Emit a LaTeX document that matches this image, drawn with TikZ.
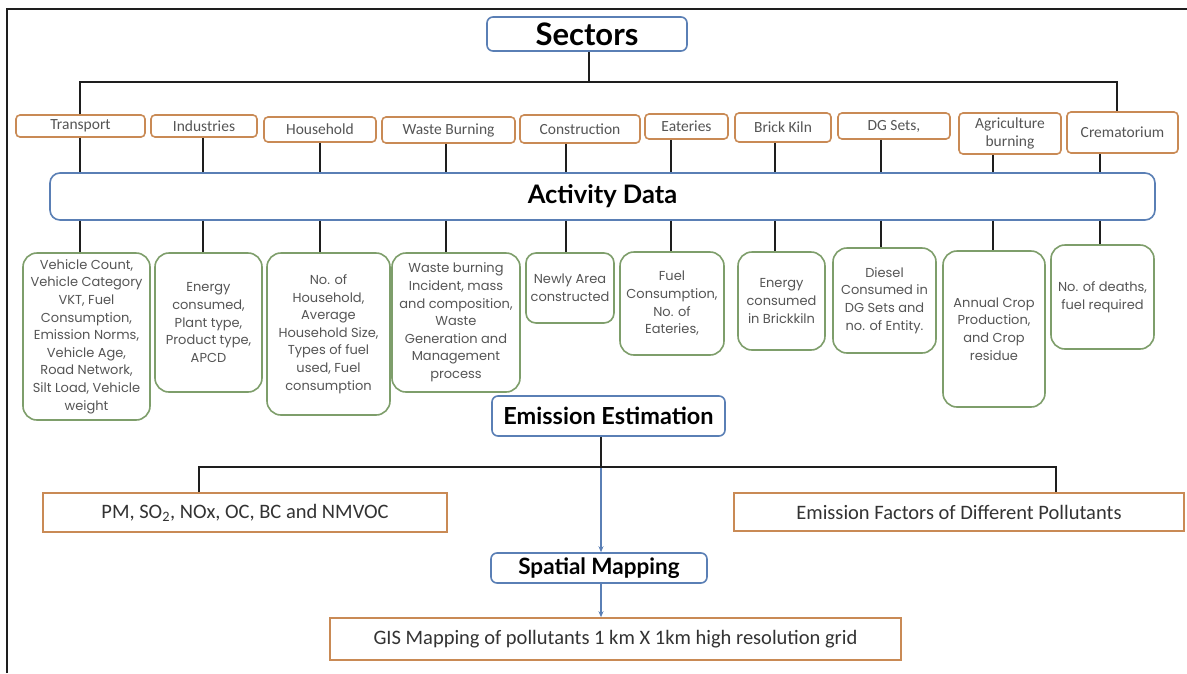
\documentclass[tikz,border=0pt]{standalone}
\usepackage{fontspec}
\setmainfont{Carlito}
\newfontfamily\titlefont{Lato}
\newfontfamily\detailfont{Poppins}
\usetikzlibrary{arrows.meta}
\definecolor{bbl}{HTML}{5A7FB5}
\definecolor{orng}{HTML}{C98A55}
\definecolor{grn}{HTML}{7E9E6B}
\definecolor{lineblk}{HTML}{1E1E1E}
\definecolor{txtg}{HTML}{555555}
\definecolor{txtd}{HTML}{333333}
\begin{document}
\begin{tikzpicture}[x=1pt,y=-1pt,
  box/.style={draw, line width=1.6pt, inner sep=0pt, align=center, fill=white},
  blueb/.style={box, draw=bbl, rounded corners=6pt, text=black},
  sect/.style={box, draw=orng, rounded corners=4pt, font=\fontsize{15.5}{18}\selectfont, text=txtg},
  det/.style={box, draw=grn, rounded corners=14pt, font=\detailfont\fontsize{13}{17.6}\selectfont, text=txtg},
  orbox/.style={box, draw=orng, font=\fontsize{20.5}{23}\selectfont, text=txtd},
  conn/.style={line width=1.5pt, draw=lineblk},
  arr/.style={line width=1.2pt, draw=bbl, -{Stealth[length=6pt,width=5pt]}}]
\useasboundingbox (0,0) rectangle (1187,673);
\fill[white] (0,0) rectangle (1187,673);
% frame
\draw[line width=2pt, lineblk] (7,673) -- (7,9) -- (1187,9);

% title
\node[blueb, minimum width=200pt, minimum height=34pt, font=\titlefont\bfseries\fontsize{31}{33}\selectfont] (sec) at (587,34) {Sectors};

% sectors
\node[sect, minimum width=129pt, minimum height=22pt] (tr) at (80.5,126) {Transport};
\node[sect, minimum width=106pt, minimum height=22pt] (ind) at (204,126) {Industries};
\node[sect, minimum width=112pt, minimum height=25pt] (hh) at (320,129.5) {Household};
\node[sect, minimum width=133pt, minimum height=26pt] (wb) at (448.5,130) {Waste Burning};
\node[sect, minimum width=120pt, minimum height=28pt] (con) at (580,129) {Construction};
\node[sect, minimum width=83pt, minimum height=25pt] (eat) at (686.5,126.5) {Eateries};
\node[sect, minimum width=96pt, minimum height=29pt] (bk) at (783,127.5) {Brick Kiln};
\node[sect, minimum width=112pt, minimum height=26pt] (dg) at (894,126) {DG Sets,};
\node[sect, minimum width=102pt, minimum height=41pt] (agr) at (1010,133.5) {Agriculture\\burning};
\node[sect, minimum width=111pt, minimum height=41pt] (cre) at (1122.5,132.5) {Crematorium};

% activity data
\node[blueb, rounded corners=10pt, minimum width=1105pt, minimum height=47pt, font=\titlefont\bfseries\fontsize{25.5}{27}\selectfont] (act) at (602.5,196.5) {Activity Data};

% details
\node[det, minimum width=127pt, minimum height=167pt] (dT) at (86.5,336.5) {Vehicle Count,\\Vehicle Category\\VKT, Fuel\\Consumption,\\Emission Norms,\\Vehicle Age,\\Road Network,\\Silt Load, Vehicle\\weight};
\node[det, minimum width=107pt, minimum height=139pt] (dI) at (208.5,322.5) {Energy\\consumed,\\Plant type,\\Product type,\\APCD};
\node[det, minimum width=123pt, minimum height=162pt] (dH) at (328.5,334) {No. of\\Household,\\Average\\Household Size,\\Types of fuel\\used, Fuel\\consumption};
\node[det, minimum width=128pt, minimum height=139pt] (dW) at (456,322.5) {Waste burning\\Incident, mass\\and composition,\\Waste\\Generation and\\Management\\process};
\node[det, rounded corners=10pt, minimum width=88pt, minimum height=70pt] (dC) at (570,288) {Newly Area\\constructed};
\node[det, minimum width=104pt, minimum height=103pt] (dE) at (672,303.5) {Fuel\\Consumption,\\No. of\\Eateries,};
\node[det, minimum width=87pt, minimum height=98pt] (dB) at (781.5,301) {Energy\\consumed\\in Brickkiln};
\node[det, minimum width=103pt, minimum height=105pt] (dD) at (884.5,300.5) {Diesel\\Consumed in\\DG Sets and\\no. of Entity.};
\node[det, minimum width=102pt, minimum height=156pt] (dA) at (994,329) {Annual Crop\\Production,\\and Crop\\residue};
\node[det, minimum width=103pt, minimum height=104pt] (dCr) at (1102.5,297) {No. of deaths,\\fuel required};

% lower part
\node[blueb, minimum width=233pt, minimum height=40pt, font=\titlefont\bfseries\fontsize{23.5}{25}\selectfont] (ee) at (608.5,416) {Emission Estimation};
\node[orbox, minimum width=404pt, minimum height=39pt] (pm) at (245,512.5) {PM, SO\textsubscript{2}, NOx, OC, BC and NMVOC};
\node[orbox, minimum width=450pt, minimum height=38pt] (ef) at (959,512) {Emission Factors of Different Pollutants};
\node[blueb, minimum width=216pt, minimum height=30pt, font=\titlefont\bfseries\fontsize{22.5}{24}\selectfont] (sm) at (599,568) {Spatial Mapping};
\node[orbox, minimum width=571pt, minimum height=42pt] (gis) at (615.5,639) {GIS Mapping of pollutants 1 km X 1km high resolution grid};

% column coordinates
\coordinate (cS) at (589,0);
\coordinate (busL) at (80,82);
\coordinate (busR) at (1117,82);
\coordinate (cT) at (80,0);
\coordinate (cI) at (203,0);
\coordinate (cH) at (320,0);
\coordinate (cW) at (446,0);
\coordinate (cC) at (566,0);
\coordinate (cE) at (671,0);
\coordinate (cB) at (775,0);
\coordinate (cD) at (881,0);
\coordinate (cA) at (993,0);
\coordinate (cR) at (1100,0);
\coordinate (cX) at (601,0);
\coordinate (eL) at (199,467);
\coordinate (eR) at (1056,467);

% top connectors
\draw[conn] (sec.south -| cS) -- (cS |- busL);
\draw[conn] (tr.north -| busL) -- (busL) -- (busR) -- (cre.north -| busR);

\foreach \s/\d/\c in {tr/dT/cT, ind/dI/cI, hh/dH/cH, wb/dW/cW, con/dC/cC, eat/dE/cE, bk/dB/cB, dg/dD/cD, agr/dA/cA, cre/dCr/cR}{
  \draw[conn] (\s.south -| \c) -- (act.north -| \c);
  \draw[conn] (act.south -| \c) -- (\d.north -| \c);
}

% lower connectors
\draw[arr] (ee.south -| cX) -- (sm.north -| cX);
\draw[arr] (sm.south -| cX) -- (gis.north -| cX);
\draw[conn] (ee.south -| cX) -- (cX |- eL);
\draw[conn] (pm.north -| eL) -- (eL) -- (eR) -- (ef.north -| eR);
\end{tikzpicture}
\end{document}
